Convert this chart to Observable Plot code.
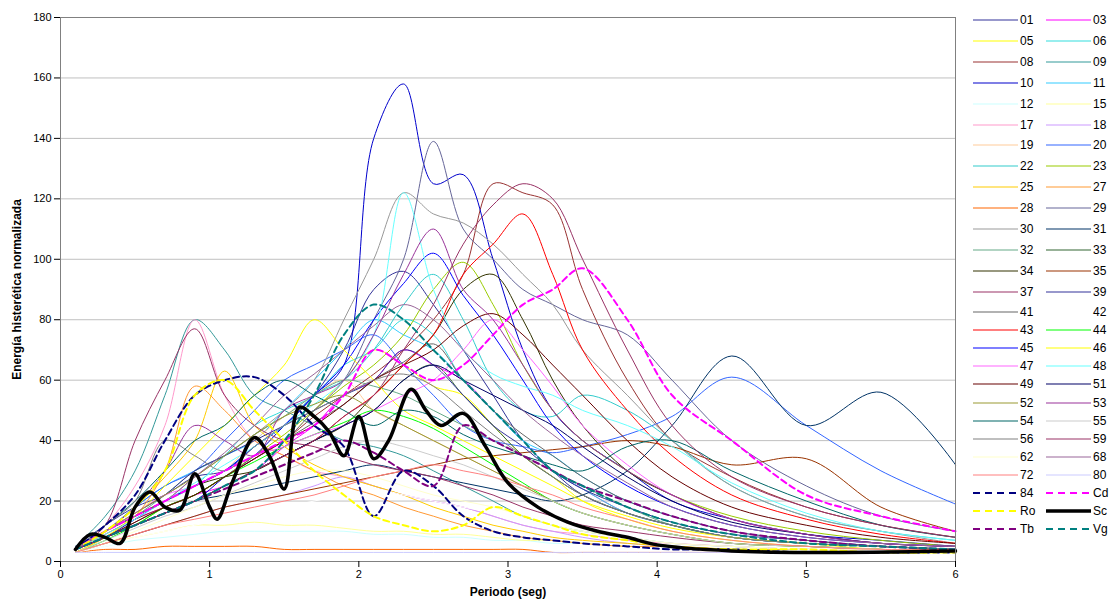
<!DOCTYPE html>
<html><head><meta charset="utf-8">
<script src="https://cdn.jsdelivr.net/npm/d3@7"></script>
<script src="https://cdn.jsdelivr.net/npm/@observablehq/plot@0.6"></script>
<style>
body{margin:0;background:#fff;font-family:"Liberation Sans",Arial,sans-serif;}
#wrap{position:relative;width:1115px;height:600px;}
#chart{position:absolute;left:0;top:0;}
#legend{position:absolute;left:0;top:0;}
.it{position:absolute;font-size:12px;line-height:12px;color:#000;}
</style></head><body>
<div id="wrap"><div id="chart"></div><div id="legend"></div></div>
<script>
const periods=[0.1,0.3,0.5,0.7,0.9,1.1,1.3,1.5,1.7,1.9,2.1,2.3,2.5,2.7,2.9,3.1,3.3,3.5,3.8,4.1,4.5,5,5.5,6];
const names=["01","03","05","06","08","09","10","11","12","15","17","18","19","20","22","23","25","27","28","29","30","31","32","33","34","35","37","39","41","42","43","44","45","46","47","48","49","51","52","53","54","55","56","59","62","68","72","80","84","Cd","Ro","Sc","Tb","Vg"];
const colors=["#333399","#FF00FF","#FFFF00","#33DDDD","#993333","#339999","#0000CC","#33CCFF","#CCFFFF","#FFFF99","#FF99CC","#CC99FF","#FFCC99","#3366FF","#33CCCC","#99CC00","#FFCC00","#FF9933","#FF6600","#666699","#999999","#003366","#66AA88","#336633","#333300","#993300","#993366","#333399","#666666","#FFFFFF","#FF0000","#00FF00","#0000FF","#FFFF00","#FF66FF","#66FFFF","#660000","#000066","#999933","#993399","#006666","#CCCCCC","#808080","#993366","#FFFFCC","#996699","#FF8080","#CCCCFF","#000080","#FF00FF","#FFFF00","#000000","#800080","#008080"];
const dashed=["84","Cd","Ro","Tb","Vg"];
const values=[
[5,12,18,22,28,30,38,45,55,70,90,96,85,70,55,40,30,22,16,12,8,6,5,4],
[4,8,14,18,22,25,30,38,45,55,60,70,65,60,50,40,30,24,16,12,8,6,5,4],
[3,8,15,20,25,30,35,40,50,60,70,65,58,55,45,35,28,20,14,10,7,5,4,3],
[4,10,15,20,25,35,45,50,55,65,70,80,75,60,50,40,30,24,16,12,8,6,5,4],
[4,9,14,18,22,28,34,40,48,55,62,70,80,95,125,122,118,90,60,40,28,18,12,8],
[5,15,30,55,80,70,55,50,45,40,38,35,30,25,20,15,12,10,8,6,5,4,4,3],
[4,8,12,16,20,28,35,45,55,65,140,158,125,128,100,70,50,40,30,20,14,9,7,5],
[4,10,18,25,30,35,40,50,60,70,80,75,70,60,50,40,35,28,20,15,10,7,5,4],
[3,5,7,8,9,10,10,10,10,10,9,9,8,8,7,7,6,6,5,5,4,4,4,4],
[3,6,8,10,12,12,13,12,12,11,10,10,9,9,8,7,7,6,5,5,4,4,4,4],
[4,12,25,45,80,55,40,35,30,28,25,22,20,18,15,12,10,9,7,6,5,4,4,3],
[3,6,9,12,15,18,20,22,25,28,25,22,20,18,15,12,10,8,6,5,4,4,3,3],
[3,8,14,20,25,30,40,48,55,60,50,45,40,35,30,25,20,16,12,9,6,5,4,4],
[4,10,18,25,30,40,50,60,65,70,75,65,55,45,40,38,36,38,42,48,61,45,30,19],
[4,10,15,20,25,30,38,45,55,60,70,85,95,80,60,50,48,55,50,40,25,15,10,7],
[4,8,12,18,22,28,35,42,50,58,65,75,90,99,85,65,50,40,30,22,15,10,7,5],
[4,10,18,28,40,63,45,38,32,28,25,22,18,15,12,10,8,7,6,5,4,4,3,3],
[3,8,15,30,58,50,40,35,30,25,22,18,15,12,10,8,7,6,5,5,4,3,3,3],
[3,4,4,5,5,5,5,4,4,4,4,4,4,4,4,4,3,3,3,3,3,3,3,3],
[5,10,15,20,25,30,35,40,50,60,80,100,139,110,100,90,85,80,75,60,40,25,15,10],
[4,10,15,20,28,35,42,50,60,80,100,122,115,112,105,95,85,70,55,40,25,15,10,6],
[4,8,12,16,20,22,24,26,28,30,32,30,28,26,24,22,20,22,30,45,68,45,56,32],
[4,10,15,22,30,35,42,48,55,60,58,55,50,45,40,35,30,25,18,12,8,6,5,4],
[4,8,12,16,20,25,30,35,40,45,50,60,65,55,45,35,28,22,16,12,8,6,5,4],
[4,10,15,20,25,28,30,35,40,45,55,65,75,90,95,80,60,45,30,22,14,9,6,5],
[3,6,9,12,15,18,20,22,24,26,28,30,32,34,35,36,37,38,40,38,32,34,18,10],
[4,12,40,60,77,55,45,40,38,35,32,30,28,25,22,18,15,12,10,8,6,5,4,4],
[4,10,16,22,30,35,40,45,50,55,60,70,65,55,45,38,30,24,18,13,9,7,5,4],
[4,8,13,18,22,28,34,40,46,52,60,66,72,60,50,42,35,28,20,15,10,7,5,4],
[3,5,8,10,12,14,16,18,20,22,24,22,20,18,16,14,12,10,8,6,5,4,3,3],
[4,8,12,16,20,25,30,35,40,48,55,65,75,95,105,115,95,70,50,35,22,14,9,6],
[3,7,12,18,22,28,33,38,42,46,50,48,44,38,32,26,20,16,12,9,6,5,4,3],
[4,8,14,20,25,30,38,45,55,65,80,92,102,88,75,60,45,35,25,18,12,8,6,5],
[3,8,15,25,35,45,55,65,80,70,60,50,45,40,35,30,25,20,15,11,8,6,4,4],
[4,10,16,22,25,30,35,38,42,45,50,55,60,70,80,70,58,45,32,22,14,9,6,5],
[4,9,14,20,26,32,38,45,52,60,75,122,90,70,62,58,55,50,45,38,26,16,10,7],
[4,8,13,18,22,28,34,40,45,52,60,65,70,78,82,75,65,55,40,28,18,12,8,6],
[4,8,12,16,20,25,30,35,40,45,50,60,65,60,55,50,45,38,28,20,13,9,6,5],
[4,10,16,22,28,35,42,48,52,55,50,45,40,35,30,25,20,16,12,9,6,5,4,3],
[4,10,18,30,45,40,35,50,55,60,75,95,110,90,80,65,50,40,30,22,14,9,6,5],
[4,12,20,30,40,45,55,60,55,50,45,50,48,42,38,35,32,30,38,40,30,20,12,8],
[3,7,11,15,18,22,26,30,34,38,40,38,35,32,28,24,20,16,12,9,6,5,4,3],
[4,12,20,40,35,30,38,45,50,55,60,62,58,50,42,35,28,22,16,12,8,6,5,4],
[4,8,12,16,20,25,30,35,40,48,55,70,85,105,118,125,120,100,70,45,28,18,12,8],
[3,6,10,14,18,22,25,28,30,30,28,25,22,20,18,15,12,10,8,6,5,4,4,3],
[4,10,15,20,28,36,45,55,62,70,78,85,80,70,60,50,42,35,26,18,12,8,6,5],
[3,6,9,12,14,16,18,20,22,25,28,30,32,30,28,25,22,18,14,10,7,5,4,4],
[3,3,3,3,3,3,3,3,3,3,3,3,3,3,3,3,3,3,3,3,3,3,3,3],
[4,12,22,40,55,60,61,55,45,38,15,30,25,15,10,8,7,6,5,4,4,3,3,3],
[4,10,15,20,25,30,35,40,45,55,70,65,60,65,75,85,90,97,80,55,40,22,15,10],
[4,10,18,30,55,60,50,40,30,22,15,12,10,12,18,15,12,9,7,5,4,4,3,3],
null,
[4,8,12,16,20,24,28,32,36,40,36,30,25,45,40,35,30,25,20,15,10,7,5,4],
[4,8,12,16,20,25,30,40,55,75,85,80,70,60,50,40,30,25,18,13,9,6,5,4]
];
const scPeriods=[0.1,0.2,0.3,0.4,0.5,0.6,0.7,0.8,0.9,1.0,1.05,1.15,1.3,1.4,1.5,1.6,1.7,1.8,1.9,2.0,2.1,2.2,2.35,2.45,2.55,2.7,2.85,3.0,3.2,3.4,3.6,3.8,4.0,4.5,5,6];
const scValues=[4,9,8,6,18,23,18,17,29,18,14,26,41,35,24,51,48,43,35,48,34,40,57,50,45,49,38,26,18,13,10,8,5.5,3.5,3,3.5];
const xTicks=[0,1,2,3,4,5,6];
const yTicks=[0,20,40,60,80,100,120,140,160,180];

const rows=[];
names.forEach((n,i)=>{
  const xs=n==="Sc"?scPeriods:periods, ys=n==="Sc"?scValues:values[i];
  xs.forEach((x,j)=>rows.push({s:n,x,y:ys[j]}));
});
const normal=rows.filter(d=>!dashed.includes(d.s)&&d.s!=="Sc");
const dash=rows.filter(d=>dashed.includes(d.s));
const sc=rows.filter(d=>d.s==="Sc");
const plot=Plot.plot({
  width:965,height:600,marginLeft:60,marginRight:10,marginTop:17,marginBottom:39,
  style:{fontFamily:"Liberation Sans, Arial, sans-serif",fontSize:"11px",color:"#000",overflow:"visible"},
  x:{domain:[0,6]},
  y:{domain:[0,180]},
  color:{domain:names,range:colors},
  marks:[
    Plot.gridY(yTicks.slice(1),{stroke:"#c0c0c0",strokeOpacity:1}),
    Plot.line(normal,{x:"x",y:"y",z:"s",stroke:"s",strokeWidth:1,curve:"catmull-rom"}),
    Plot.line(dash,{x:"x",y:"y",z:"s",stroke:"s",strokeWidth:2,strokeDasharray:"6,4",curve:"catmull-rom"}),
    Plot.line(sc,{x:"x",y:"y",stroke:"#000",strokeWidth:3.5,curve:"catmull-rom"}),
    Plot.frame({stroke:"#808080"}),
    Plot.axisX({ticks:xTicks,tickFormat:"d",label:"Periodo (seg)",labelArrow:"none",labelAnchor:"center",labelOffset:34,fontSize:11}),
    Plot.axisY({ticks:yTicks,tickFormat:"d",label:"Energía histerética normalizada",labelArrow:"none",labelAnchor:"center",labelOffset:48,fontSize:11})
  ]
});
d3.select(plot).selectAll("[aria-label='x-axis label'] text, [aria-label='y-axis label'] text").style("font-weight","bold").style("font-size","12px");
document.getElementById("chart").appendChild(plot);

const lg=document.getElementById("legend");
names.forEach((n,i)=>{
  const r=Math.floor(i/2),c=i%2;
  const top=r<14?20+20.9*r:312+18.1*(r-14);
  const sx=c===0?973:1046;
  const sw=document.createElementNS("http://www.w3.org/2000/svg","svg");
  sw.setAttribute("width",45);sw.setAttribute("height",6);
  sw.style.position="absolute";sw.style.left=sx+"px";sw.style.top=(top-3)+"px";
  const ln=document.createElementNS("http://www.w3.org/2000/svg","line");
  ln.setAttribute("x1",0);ln.setAttribute("x2",45);ln.setAttribute("y1",3);ln.setAttribute("y2",3);
  ln.setAttribute("stroke",colors[i]);
  ln.setAttribute("stroke-width",n==="Sc"?3.5:(dashed.includes(n)?2:1.2));
  if(dashed.includes(n))ln.setAttribute("stroke-dasharray","7,5");
  sw.appendChild(ln);lg.appendChild(sw);
  const t=document.createElement("div");t.className="it";t.textContent=n;
  t.style.left=(sx+47)+"px";t.style.top=(top-6)+"px";lg.appendChild(t);
});
</script></body></html>
